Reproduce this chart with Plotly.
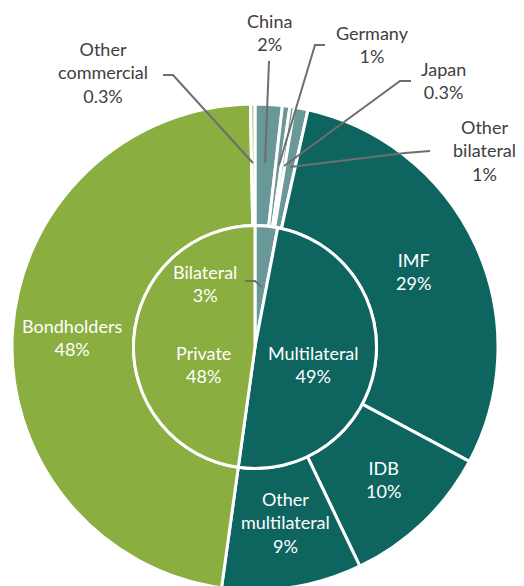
import plotly.graph_objects as go

# page body has an 8px margin: figure coordinates = screen coordinates - 8
OFF = 8
W, H = 508, 586

# Inner ring (creditor groups)
inner_labels = ["Bilateral", "Multilateral", "Private"]
inner_values = [3.0, 49.2, 47.8]
inner_text = ["3%", "49%", "48%"]

# Outer ring (creditors)
outer_labels = ["China", "Germany", "Japan", "Other bilateral", "IMF", "IDB",
                "Other multilateral", "Bondholders", "Other commercial"]
outer_values = [1.8, 0.5, 0.3, 0.9, 29.3, 10.1, 9.3, 47.5, 0.3]
outer_text = ["2%", "1%", "0.3%", "1%", "29%", "10%", "9%", "48%", "0.3%"]

TEAL = "#0E6560"
GREEN = "#8AAE3F"
GREY = "#6A9898"
LIGHT = "#BCD28C"

inner_colors = [GREY, TEAL, GREEN]
outer_colors = [GREY, GREY, GREY, GREY, TEAL, TEAL, TEAL, GREEN, LIGHT]


def px(x):
    return (x - OFF) / W


def py(y):
    return 1 - (y - OFF) / H


cx, cy = 255, 347
R_out, R_in = 243, 121.5

fig = go.Figure()
fig.add_trace(go.Pie(
    labels=outer_labels, values=outer_values, sort=False, direction="clockwise",
    rotation=0, hole=R_in / R_out, textinfo="none", hoverinfo="label+value",
    marker=dict(colors=outer_colors, line=dict(color="white", width=3)),
    domain=dict(x=[px(cx - R_out), px(cx + R_out)],
                y=[max(0, py(cy + R_out)), py(cy - R_out)]),
    showlegend=False,
))
fig.add_trace(go.Pie(
    labels=inner_labels, values=inner_values, sort=False, direction="clockwise",
    rotation=0, textinfo="none", hoverinfo="label+value",
    marker=dict(colors=inner_colors, line=dict(color="white", width=3)),
    domain=dict(x=[px(cx - R_in), px(cx + R_in)], y=[py(cy + R_in), py(cy - R_in)]),
    showlegend=False,
))

FONT = "Lato, 'Open Sans', sans-serif"
FS = 18
DARK = "#404040"

# label positions (screen pixel centres)
outer_pos = {
    "China": (269, 33, DARK),
    "Germany": (372, 44, DARK),
    "Japan": (443, 80, DARK),
    "Other bilateral": (484, 150, DARK),
    "IMF": (413, 271, "white"),
    "IDB": (383, 479, "white"),
    "Other multilateral": (285, 522, "white"),
    "Bondholders": (72, 337, "white"),
    "Other commercial": (103, 73, DARK),
}
inner_pos = {
    "Bilateral": (205, 283, "white"),
    "Multilateral": (313, 364, "white"),
    "Private": (203, 364, "white"),
}

display = {"Other bilateral": "Other<br>bilateral",
           "Other multilateral": "Other<br>multilateral",
           "Other commercial": "Other<br>commercial"}

annotations = []
for lab, t in zip(outer_labels, outer_text):
    x, y, col = outer_pos[lab]
    annotations.append(dict(x=px(x), y=py(y), xref="paper", yref="paper",
                            xanchor="center", yanchor="middle",
                            text=display.get(lab, lab) + "<br>" + t, showarrow=False,
                            font=dict(family=FONT, size=FS, color=col), align="center"))
for lab, t in zip(inner_labels, inner_text):
    x, y, col = inner_pos[lab]
    annotations.append(dict(x=px(x), y=py(y), xref="paper", yref="paper",
                            xanchor="center", yanchor="middle",
                            text=lab + "<br>" + t, showarrow=False,
                            font=dict(family=FONT, size=FS, color=col), align="center"))

# leader lines
leaders = [
    [(163, 75), (173, 75), (253, 163)],
    [(269, 61), (265, 163)],
    [(325, 45), (315, 45), (279, 165)],
    [(411, 81), (400, 81), (284, 166)],
    [(430, 151), (405, 153), (290, 167)],
    [(245, 281), (255, 281), (262, 287)],
]
shapes = []
for pts in leaders:
    path = "M " + " L ".join(f"{px(a)},{py(b)}" for a, b in pts)
    shapes.append(dict(type="path", path=path, xref="paper", yref="paper",
                       line=dict(color="#6E6E6E", width=2)))

fig.update_layout(
    width=W, height=H, margin=dict(l=0, r=0, t=0, b=0),
    paper_bgcolor="white", plot_bgcolor="white",
    annotations=annotations, shapes=shapes,
)

fig.write_html("out.html", post_script="document.body.style.overflow='hidden';")
